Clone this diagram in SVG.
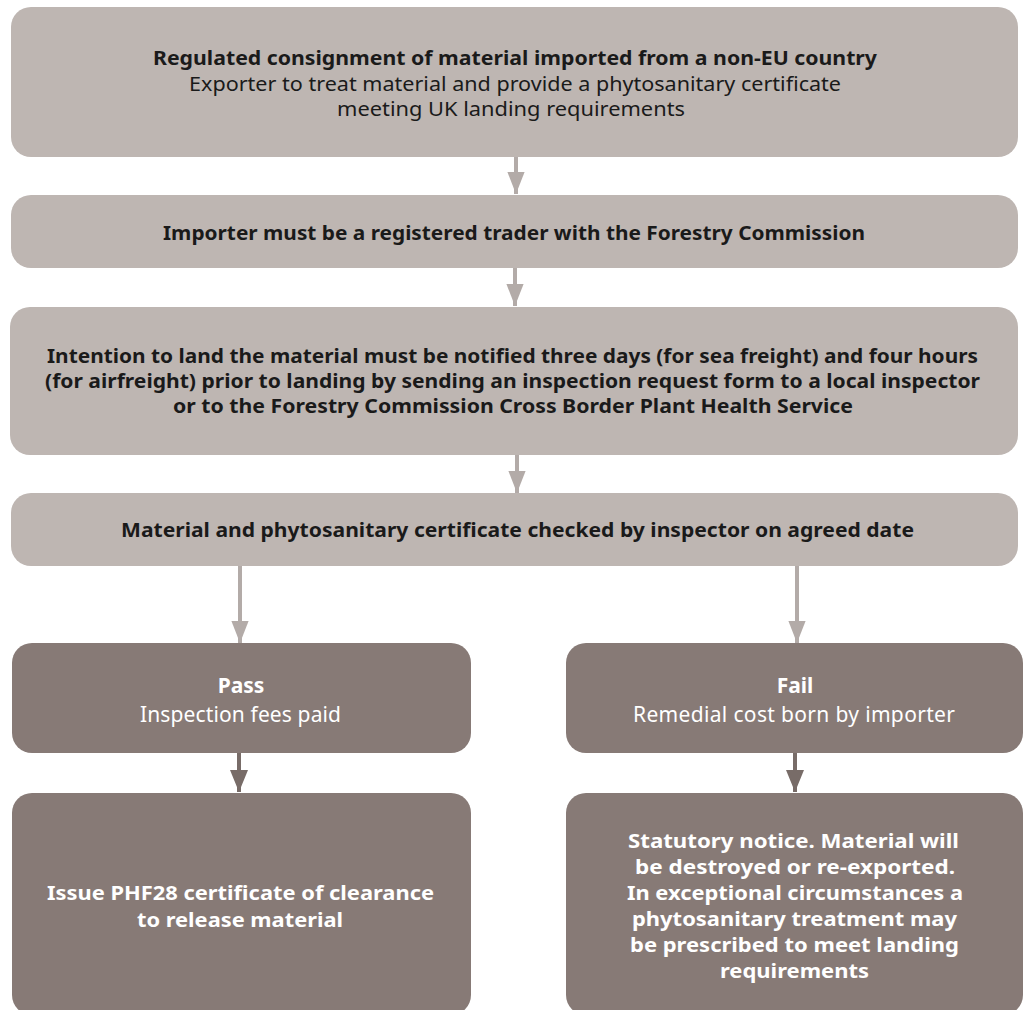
<svg xmlns="http://www.w3.org/2000/svg" width="1029" height="1010" viewBox="0 0 1029 1010">
<defs>
<style>
.light{fill:#beb6b2}
.dark{fill:#877a76}
text{font-family:"Noto Sans","Open Sans",sans-serif;font-size:19px;text-anchor:middle}
.s{font-size:21px}
.b{font-weight:bold}
.tl{fill:#1a1a1a}
.td{fill:#ffffff}
.al{stroke:#b3aba8;stroke-width:4;fill:none}
.ad{stroke:#786c68;stroke-width:4;fill:none}
</style>
<marker id="ml" viewBox="0 0 10 10" refX="10" refY="5" markerWidth="5.5" markerHeight="4.3" markerUnits="strokeWidth" orient="auto" preserveAspectRatio="none"><path d="M0,0L10,5L0,10z" fill="#b3aba8"/></marker>
<marker id="md" viewBox="0 0 10 10" refX="10" refY="5" markerWidth="5.5" markerHeight="4.5" markerUnits="strokeWidth" orient="auto" preserveAspectRatio="none"><path d="M0,0L10,5L0,10z" fill="#786c68"/></marker>
</defs>
<rect width="1029" height="1010" fill="#ffffff"/>
<g id="connectors">
<line class="al" x1="516" y1="157" x2="516" y2="194" marker-end="url(#ml)"/>
<line class="al" x1="515" y1="268" x2="515" y2="306" marker-end="url(#ml)"/>
<line class="al" x1="517" y1="455" x2="517" y2="493" marker-end="url(#ml)"/>
<line class="al" x1="240" y1="566" x2="240" y2="643" marker-end="url(#ml)"/>
<line class="al" x1="797" y1="566" x2="797" y2="643" marker-end="url(#ml)"/>
<line class="ad" x1="239" y1="753" x2="239" y2="792" marker-end="url(#md)"/>
<line class="ad" x1="795" y1="753" x2="795" y2="792" marker-end="url(#md)"/>
</g>
<g id="n1">
<rect class="light" x="11" y="7" width="1007" height="150" rx="20"/>
<text class="tl b" x="515" y="65" textLength="724" lengthAdjust="spacingAndGlyphs">Regulated consignment of material imported from a non-EU country</text>
<text class="tl" x="515" y="91" textLength="652" lengthAdjust="spacingAndGlyphs">Exporter to treat material and provide a phytosanitary certificate</text>
<text class="tl" x="511" y="116" textLength="348" lengthAdjust="spacingAndGlyphs">meeting UK landing requirements</text>
</g>
<g id="n2">
<rect class="light" x="11" y="195" width="1007" height="73" rx="20"/>
<text class="tl b" x="514" y="240" textLength="702" lengthAdjust="spacingAndGlyphs">Importer must be a registered trader with the Forestry Commission</text>
</g>
<g id="n3">
<rect class="light" x="10" y="307" width="1008" height="148" rx="20"/>
<text class="tl b" x="512.5" y="363" textLength="931" lengthAdjust="spacingAndGlyphs">Intention to land the material must be notified three days (for sea freight) and four hours</text>
<text class="tl b" x="512.5" y="388" textLength="935" lengthAdjust="spacingAndGlyphs">(for airfreight) prior to landing by sending an inspection request form to a local inspector</text>
<text class="tl b" x="513" y="413" textLength="680" lengthAdjust="spacingAndGlyphs">or to the Forestry Commission Cross Border Plant Health Service</text>
</g>
<g id="n4">
<rect class="light" x="11" y="493" width="1007" height="73" rx="20"/>
<text class="tl b" x="517.5" y="537" textLength="793" lengthAdjust="spacingAndGlyphs">Material and phytosanitary certificate checked by inspector on agreed date</text>
</g>
<g id="pass">
<rect class="dark" x="12" y="643" width="459" height="110" rx="20"/>
<text class="td b s" x="241" y="693">Pass</text>
<text class="td s" x="240.5" y="722" textLength="201">Inspection fees paid</text>
</g>
<g id="fail">
<rect class="dark" x="566" y="643" width="457" height="110" rx="20"/>
<text class="td b s" x="795" y="693">Fail</text>
<text class="td s" x="794" y="722" textLength="322">Remedial cost born by importer</text>
</g>
<g id="issue">
<rect class="dark" x="12" y="793" width="459" height="222" rx="20"/>
<text class="td b" x="240.5" y="900" textLength="387" lengthAdjust="spacingAndGlyphs">Issue PHF28 certificate of clearance</text>
<text class="td b" x="240" y="927" textLength="206" lengthAdjust="spacingAndGlyphs">to release material</text>
</g>
<g id="notice">
<rect class="dark" x="566" y="793" width="457" height="222" rx="20"/>
<text class="td b" x="793.5" y="848" textLength="331" lengthAdjust="spacingAndGlyphs">Statutory notice. Material will</text>
<text class="td b" x="795" y="874" textLength="320" lengthAdjust="spacingAndGlyphs">be destroyed or re-exported.</text>
<text class="td b" x="795" y="900" textLength="336" lengthAdjust="spacingAndGlyphs">In exceptional circumstances a</text>
<text class="td b" x="794.5" y="926" textLength="325" lengthAdjust="spacingAndGlyphs">phytosanitary treatment may</text>
<text class="td b" x="794.5" y="952" textLength="329" lengthAdjust="spacingAndGlyphs">be prescribed to meet landing</text>
<text class="td b" x="794.5" y="978" textLength="149" lengthAdjust="spacingAndGlyphs">requirements</text>
</g>
</svg>
